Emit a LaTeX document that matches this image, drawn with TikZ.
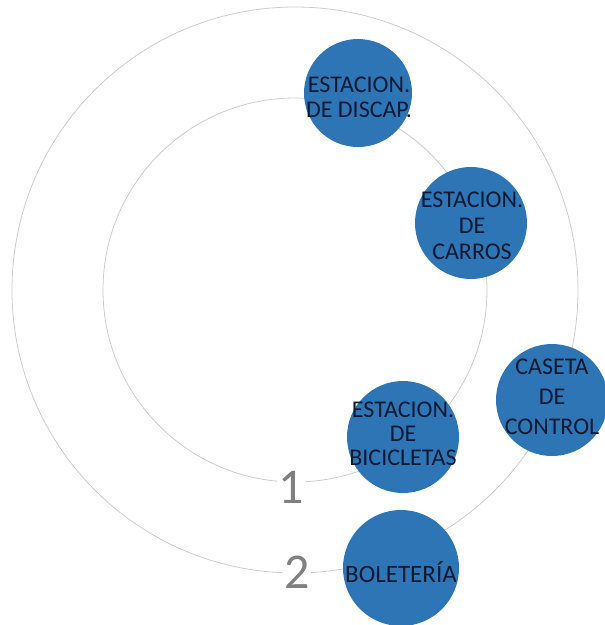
\documentclass[tikz,border=0pt]{standalone}
\usepackage{fontspec}
\setmainfont{Carlito}
\definecolor{nodeblue}{HTML}{2E75B6}
\definecolor{txtnavy}{HTML}{0E1A33}
\definecolor{ringgray}{HTML}{CCCCCC}
\definecolor{numgray}{HTML}{808080}
\tikzset{
  ring/.style={draw=ringgray, line width=0.8pt},
  bubble/.style={circle, fill=nodeblue, draw=none, inner sep=0pt},
  lbl/.style={align=center, text=txtnavy, inner sep=0pt, font=\fontsize{24}{25}\selectfont},
  numlbl/.style={text=numgray, fill=white, inner sep=1.5pt, font=\fontsize{50}{50}\selectfont}
}
\begin{document}
\begin{tikzpicture}[x=1pt,y=-1pt]
\useasboundingbox (0,0) rectangle (605,625);
\clip (0,0) rectangle (605,625);
\coordinate (c) at (295,290);
\draw[ring] (c) circle[radius=283];
\draw[ring] (c) circle[radius=192];
\node[numlbl] (one) at (291,487) {1};
\node[numlbl] (two) at (297,572) {2};
\node[bubble, minimum size=108pt] (discap) at (358,93) {};
\node[lbl] (discapT) at (359,97) {ESTACION.\\DE DISCAP.};
\node[bubble, minimum size=112pt] (carros) at (471,223) {};
\node[lbl, font=\fontsize{24}{26}\selectfont] (carrosT) at (472,226) {ESTACION.\\DE\\CARROS};
\node[bubble, minimum size=112pt] (caseta) at (552,400) {};
\node[lbl, font=\fontsize{24}{30}\selectfont] (casetaT) at (552,397) {CASETA\\DE\\CONTROL};
\node[bubble, minimum size=112pt] (bici) at (403,437) {};
\node[lbl, font=\fontsize{24}{24}\selectfont] (biciT) at (403,434) {ESTACION.\\DE\\BICICLETAS};
\node[bubble, minimum size=116pt] (bolet) at (401,568) {};
\node[lbl, font=\fontsize{25}{25}\selectfont] (boletT) at (401,572) {BOLETERÍA};
\end{tikzpicture}
\end{document}
